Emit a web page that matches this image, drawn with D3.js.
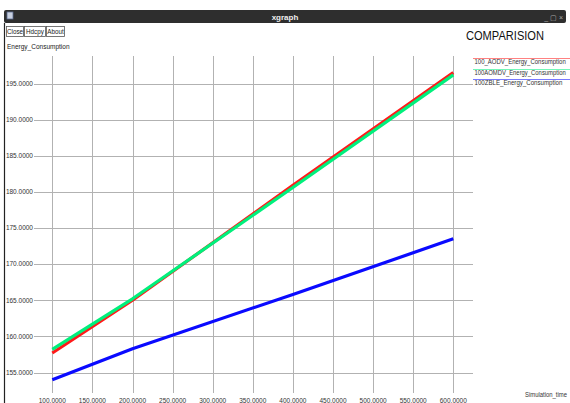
<!DOCTYPE html>
<html>
<head>
<meta charset="utf-8">
<script src="https://cdn.jsdelivr.net/npm/d3@7"></script>
<style>
  body { margin: 0; background: #fff; }
  svg text { font-family: "Liberation Sans", Arial, sans-serif; }
</style>
</head>
<body>
<svg id="chart" width="570" height="403"></svg>
<script>
// values
const simTimes = [100, 200, 400, 600];
const aodv = [157.7, 165.0, 180.9, 196.5];
const aomdv = [158.2, 165.2, 180.6, 196.2];
const zble = [154.0, 158.3, 165.8, 173.5];
const xTicks = [100, 150, 200, 250, 300, 350, 400, 450, 500, 550, 600];
const yTicks = [155, 160, 165, 170, 175, 180, 185, 190, 195];
const seriesNames = ['100_AODV_Energy_Consumption', '100AOMDV_Energy_Consumption', '100ZBLE_Energy_Consumption'];
const buttons = ['Close', 'Hdcpy', 'About'];

const colors = ['#ff1a1a', '#00f07c', '#0a0aff'];

const svg = d3.select('#chart');

// window frame
svg.append('rect').attr('x', 4).attr('y', 10).attr('width', 562).attr('height', 13)
    .attr('rx', 2).attr('fill', '#2e2e2e');
svg.append('rect').attr('x', 7).attr('y', 12).attr('width', 6).attr('height', 7)
    .attr('fill', '#c8d0e0').attr('stroke', '#5a6a90').attr('stroke-width', 0.8);
svg.append('text').attr('x', 285).attr('y', 20).attr('text-anchor', 'middle')
    .attr('font-size', 8).attr('font-weight', 'bold').attr('fill', '#eee').text('xgraph');
svg.append('text').attr('x', 563).attr('y', 20).attr('text-anchor', 'end')
    .attr('font-size', 7).attr('fill', '#aaa').text('_  ▢  ×');
svg.append('line').attr('x1', 4.5).attr('x2', 4.5).attr('y1', 23).attr('y2', 403)
    .attr('stroke', '#222').attr('stroke-width', 1.2);

// buttons
let bx = 6;
buttons.forEach(b => {
    const w = b === 'Close' ? 17 : (b === 'Hdcpy' ? 21 : 18);
    svg.append('rect').attr('x', bx + 0.5).attr('y', 26.5).attr('width', w).attr('height', 10)
        .attr('fill', '#fff').attr('stroke', '#555').attr('stroke-width', 0.8);
    svg.append('text').attr('x', bx + 0.5 + w / 2).attr('y', 34.2).attr('text-anchor', 'middle')
        .attr('font-size', 6.3).attr('fill', '#222').text(b);
    bx += w + 1;
});

svg.append('text').attr('x', 7).attr('y', 49).attr('font-size', 6.5).attr('fill', '#222')
    .text('Energy_Consumption');
svg.append('text').attr('x', 466).attr('y', 40).attr('font-size', 12.5).attr('fill', '#111')
    .attr('textLength', 78).attr('lengthAdjust', 'spacingAndGlyphs').text('COMPARISION');

const x = d3.scaleLinear().domain([100, 600]).range([52.3, 453.3]);
const y = d3.scaleLinear().domain([155, 195]).range([372.5, 83.5]);

// grid
const grid = svg.append('g').attr('stroke', '#b2b2b2').attr('stroke-width', 1);
grid.selectAll('.vgrid').data(xTicks).enter().append('line')
    .attr('class', 'vgrid')
    .attr('x1', d => Math.round(x(d)) + 0.5).attr('x2', d => Math.round(x(d)) + 0.5)
    .attr('y1', 56).attr('y2', 393);
grid.selectAll('.hgrid').data(yTicks).enter().append('line')
    .attr('class', 'hgrid')
    .attr('x1', 34).attr('x2', 473)
    .attr('y1', d => Math.round(y(d)) + 0.5).attr('y2', d => Math.round(y(d)) + 0.5);

svg.selectAll('.ylab').data(yTicks).enter().append('text')
    .attr('class', 'ylab')
    .attr('x', 33).attr('y', d => y(d) + 2.3)
    .attr('text-anchor', 'end').attr('font-size', 6.5).attr('fill', '#333')
    .text(d => d.toFixed(4));

svg.selectAll('.xlab').data(xTicks).enter().append('text')
    .attr('class', 'xlab')
    .attr('x', d => x(d)).attr('y', 402.5)
    .attr('text-anchor', 'middle').attr('font-size', 6.5).attr('fill', '#333')
    .text(d => d.toFixed(4));

svg.append('text').attr('x', 525).attr('y', 397).attr('font-size', 6.5).attr('fill', '#333')
    .attr('textLength', 42).attr('lengthAdjust', 'spacingAndGlyphs')
    .text('Simulation_time');

// series
const line = d3.line().x(d => x(d[0])).y(d => y(d[1]));
[aodv, aomdv, zble].forEach((vals, i) => {
    svg.append('path')
        .datum(simTimes.map((t, j) => [t, vals[j]]))
        .attr('d', line)
        .attr('fill', 'none')
        .attr('stroke', colors[i])
        .attr('stroke-width', 3.2)
        .attr('stroke-linejoin', 'round');
});

// legend
const legY = [58, 69, 79];
seriesNames.forEach((name, i) => {
    svg.append('line').attr('x1', 473).attr('x2', 570)
        .attr('y1', legY[i] + 0.5).attr('y2', legY[i] + 0.5)
        .attr('stroke', colors[i]).attr('stroke-opacity', 0.55).attr('stroke-width', 1);
    svg.append('text').attr('x', 474.5).attr('y', legY[i] + 6.3)
        .attr('font-size', 6.5).attr('fill', '#333')
        .attr('textLength', name.length * 3.38).attr('lengthAdjust', 'spacingAndGlyphs')
        .text(name);
});
</script>
</body>
</html>
